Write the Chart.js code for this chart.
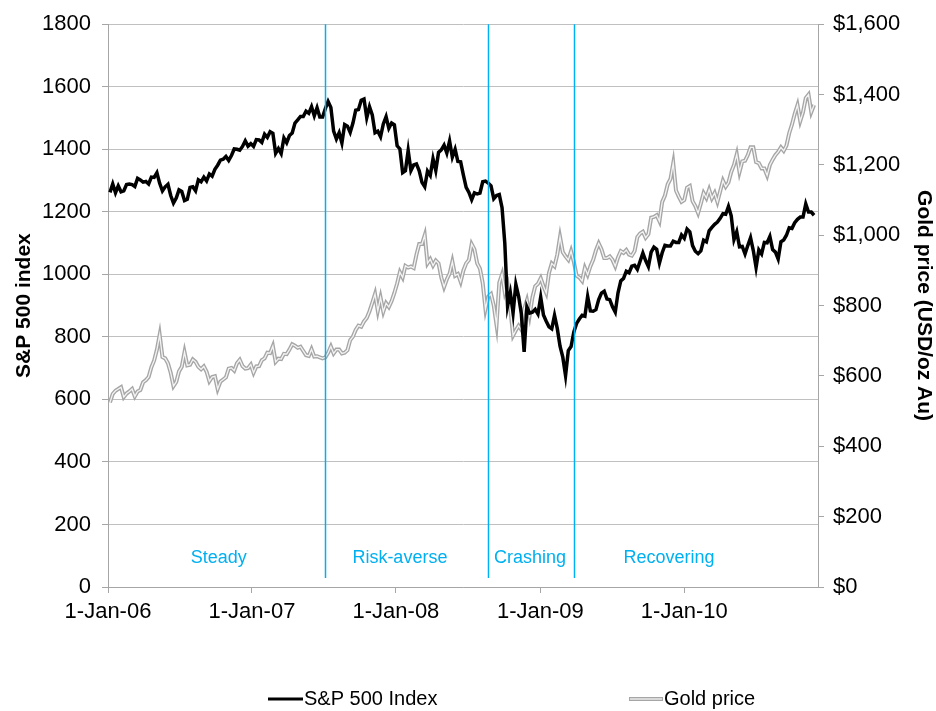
<!DOCTYPE html>
<html>
<head>
<meta charset="utf-8">
<script src="https://cdn.jsdelivr.net/npm/chart.js@4.4.1/dist/chart.umd.min.js"></script>
<style>
  html, body { margin: 0; padding: 0; background: #fff; }
  canvas { display: block; }
</style>
</head>
<body>
<canvas id="chart" width="936" height="711"></canvas>
<script>
const FONT = "'Liberation Sans', Arial, sans-serif";
const CYAN = "#00b0f0";

// weekly closes, one value per Friday, first one 6-Jan-06 (day 5 counted from 1-Jan-06)
const firstWeekDay = 5;

const spx2006 = [1262, 1289, 1261, 1283, 1264, 1267, 1287, 1289, 1287, 1281, 1307, 1302, 1295,
    1297, 1289, 1311, 1310, 1325, 1291, 1267, 1280, 1288, 1252, 1228, 1244, 1270,
    1265, 1236, 1240, 1278, 1280, 1267, 1302, 1296, 1311, 1299, 1321, 1314, 1336,
    1349, 1365, 1368, 1377, 1364, 1380, 1401, 1400, 1397, 1409, 1427, 1410, 1418];
const spx2007 = [1409, 1431, 1430, 1422, 1448, 1438, 1456, 1451, 1387, 1402, 1386, 1436, 1421,
    1444, 1452, 1484, 1494, 1505, 1505, 1522, 1515, 1536, 1507, 1533, 1503, 1503,
    1530, 1553, 1534, 1458, 1433, 1453, 1420, 1479, 1474, 1454, 1484, 1525, 1527,
    1557, 1561, 1501, 1536, 1510, 1453, 1458, 1440, 1481, 1504, 1467, 1484, 1478];
const spx2008 = [1411, 1401, 1325, 1331, 1396, 1332, 1350, 1353, 1331, 1294, 1280, 1330, 1316,
    1370, 1332, 1390, 1398, 1413, 1388, 1426, 1375, 1400, 1361, 1360, 1317, 1278,
    1262, 1239, 1261, 1257, 1260, 1296, 1298, 1292, 1283, 1242, 1252, 1255, 1213,
    1099, 899, 941, 877, 968, 930, 873, 752, 896, 876, 879, 888, 873];
const spx2009 = [927, 870, 850, 832, 826, 869, 827, 770, 735, 676, 756, 769, 816,
    843, 857, 869, 866, 929, 883, 882, 887, 919, 940, 946, 921, 919,
    896, 879, 941, 979, 987, 1010, 1005, 1026, 1029, 1016, 1042, 1068, 1044,
    1025, 1071, 1087, 1080, 1036, 1069, 1093, 1091, 1091, 1106, 1102, 1102, 1126];
const spx2010 = [1115, 1145, 1136, 1092, 1074, 1066, 1075, 1109, 1104, 1139, 1150, 1160, 1167,
    1179, 1194, 1192, 1217, 1187, 1111, 1136, 1088, 1089, 1065, 1092, 1117, 1076,
    1022, 1078, 1065, 1102, 1101, 1121, 1079, 1071, 1049, 1104, 1110, 1125, 1149,
    1147, 1165, 1176, 1183, 1183, 1225, 1199, 1199, 1189];

const gold2006 = [525, 549, 558, 563, 568, 540, 550, 556, 563, 542, 556, 560, 582,
    588, 597, 625, 644, 675, 717, 654, 650, 636, 609, 571, 583, 613,
    626, 668, 630, 632, 647, 640, 626, 619, 627, 612, 585, 597, 599,
    563, 584, 590, 596, 621, 623, 615, 636, 646, 628, 621, 622, 632];
const gold2007 = [609, 627, 628, 645, 650, 666, 665, 685, 640, 649, 648, 663, 662,
    675, 690, 686, 680, 683, 671, 659, 657, 676, 655, 656, 653, 650,
    653, 666, 684, 664, 675, 675, 664, 666, 673, 702, 712, 731, 743,
    740, 755, 765, 784, 808, 833, 785, 823, 783, 807, 796, 813, 836];
const gold2008 = [863, 895, 880, 913, 908, 911, 907, 945, 975, 975, 1000, 920, 932,
    914, 928, 920, 880, 853, 875, 891, 925, 885, 890, 868, 900, 920,
    930, 975, 960, 920, 905, 864, 790, 826, 833, 800, 745, 865, 889,
    837, 860, 790, 715, 730, 743, 731, 790, 815, 772, 823, 855, 862];
const gold2009 = [878, 855, 836, 893, 920, 912, 945, 995, 952, 940, 930, 955, 925,
    885, 880, 870, 907, 888, 912, 930, 957, 977, 960, 935, 935, 940,
    930, 912, 937, 955, 950, 958, 945, 942, 955, 995, 1005, 1010, 993,
    1003, 1050, 1052, 1057, 1040, 1095, 1113, 1145, 1160, 1205, 1127, 1110, 1095];
const gold2010 = [1100, 1135, 1140, 1097, 1083, 1063, 1090, 1120, 1106, 1130, 1105, 1120, 1095,
    1125, 1155, 1138, 1150, 1180, 1200, 1230, 1180, 1210, 1212, 1228, 1250, 1250,
    1208, 1205, 1190, 1190, 1170, 1200, 1215, 1228, 1237, 1250, 1240, 1255, 1290,
    1315, 1345, 1370, 1325, 1350, 1390, 1400, 1350, 1370];

const spxValues = [...spx2006, ...spx2007, ...spx2008, ...spx2009, ...spx2010];
const goldValues = [...gold2006, ...gold2007, ...gold2008, ...gold2009, ...gold2010];

const tickDays = [0, 365, 730, 1096, 1461];
const tickLabels = ["1-Jan-06", "1-Jan-07", "1-Jan-08", "1-Jan-09", "1-Jan-10"];

const phaseNames = ["Steady", "Risk-averse", "Crashing", "Recovering"];
const phaseStartDays = [549, 963, 1182];
const phaseLabelDays = [281, 740, 1070, 1422];

function toPoints(values) {
    return values.map((v, i) => ({ x: firstWeekDay + 7 * i, y: v }));
}
const spxPoints = toPoints(spxValues);
const goldPoints = toPoints(goldValues);

const phasesPlugin = {
    id: "phases",
    afterDatasetsDraw(chart) {
        const ctx = chart.ctx;
        const x = chart.scales.x;
        const area = chart.chartArea;
        ctx.save();
        ctx.strokeStyle = CYAN;
        ctx.lineWidth = 1.5;
        for (const day of phaseStartDays) {
            const px = Math.round(x.getPixelForValue(day)) + 0.5;
            ctx.beginPath();
            ctx.moveTo(px, area.top);
            ctx.lineTo(px, area.bottom - 9);
            ctx.stroke();
        }
        ctx.fillStyle = CYAN;
        ctx.font = "18px " + FONT;
        ctx.textAlign = "center";
        ctx.textBaseline = "middle";
        phaseNames.forEach((name, i) => {
            ctx.fillText(name, x.getPixelForValue(phaseLabelDays[i]), area.bottom - 29);
        });
        ctx.restore();
    }
};

const legendPlugin = {
    id: "bottomLegend",
    afterDraw(chart) {
        const ctx = chart.ctx;
        const y = 699;
        ctx.save();
        ctx.lineCap = "butt";
        ctx.strokeStyle = "#000";
        ctx.lineWidth = 3;
        ctx.beginPath(); ctx.moveTo(268, y); ctx.lineTo(303, y); ctx.stroke();
        ctx.strokeStyle = "#a6a6a6";
        ctx.lineWidth = 4;
        ctx.beginPath(); ctx.moveTo(629, y); ctx.lineTo(663, y); ctx.stroke();
        ctx.strokeStyle = "#f4f4f4";
        ctx.lineWidth = 1.3;
        ctx.beginPath(); ctx.moveTo(630, y); ctx.lineTo(662, y); ctx.stroke();
        ctx.fillStyle = "#000";
        ctx.font = "20px " + FONT;
        ctx.textBaseline = "middle";
        ctx.textAlign = "left";
        ctx.fillText("S&P 500 Index", 304, y);
        ctx.fillText("Gold price", 664, y);
        ctx.restore();
    }
};

new Chart(document.getElementById("chart"), {
    type: "line",
    data: {
        datasets: [
            { label: "S&P 500 Index", data: spxPoints, yAxisID: "y", borderColor: "#000", borderWidth: 3.5, pointRadius: 0, order: 0 },
            { label: "Gold price", data: goldPoints, yAxisID: "y1", borderColor: "#f4f4f4", borderWidth: 1.3, pointRadius: 0, order: 1 },
            { label: "Gold price outline", data: goldPoints, yAxisID: "y1", borderColor: "#a6a6a6", borderWidth: 4, pointRadius: 0, order: 2 }
        ]
    },
    options: {
        responsive: false,
        animation: false,
        layout: { padding: { top: 22 } },
        plugins: { legend: { display: false }, tooltip: { enabled: false } },
        scales: {
            x: {
                type: "linear",
                min: 0,
                max: 1800,
                afterBuildTicks: (scale) => { scale.ticks = tickDays.map(d => ({ value: d })); },
                afterFit: (scale) => { scale.height = 124; },
                ticks: {
                    callback: (value, index) => tickLabels[index],
                    autoSkip: false,
                    maxRotation: 0,
                    color: "#000",
                    padding: 6,
                    font: { family: FONT, size: 22 }
                },
                grid: { drawOnChartArea: false, color: "#a6a6a6", tickLength: 6 },
                border: { color: "#a6a6a6" }
            },
            y: {
                position: "left",
                min: 0,
                max: 1800,
                afterFit: (scale) => { scale.width = 108; },
                ticks: {
                    stepSize: 200,
                    color: "#000",
                    padding: 11,
                    font: { family: FONT, size: 22 },
                    callback: (v) => String(v)
                },
                grid: { color: "#c0c0c0", tickColor: "#a6a6a6", tickLength: 6 },
                border: { color: "#a6a6a6" },
                title: {
                    display: true,
                    text: "S&P 500 index",
                    color: "#000",
                    padding: { top: 12, bottom: 0 },
                    font: { family: FONT, size: 21, weight: "bold" }
                }
            },
            y1: {
                position: "right",
                min: 0,
                max: 1600,
                afterFit: (scale) => { scale.width = 118; },
                ticks: {
                    stepSize: 200,
                    color: "#000",
                    padding: 9,
                    font: { family: FONT, size: 22 },
                    callback: (v) => "$" + v.toLocaleString("en-US")
                },
                grid: { drawOnChartArea: false, color: "#a6a6a6", tickLength: 6 },
                border: { color: "#a6a6a6" },
                title: {
                    display: true,
                    text: "Gold price (USD/oz Au)",
                    color: "#000",
                    padding: { top: 0, bottom: 0 },
                    font: { family: FONT, size: 21, weight: "bold" }
                }
            }
        }
    },
    plugins: [phasesPlugin, legendPlugin]
});
</script>
</body>
</html>
